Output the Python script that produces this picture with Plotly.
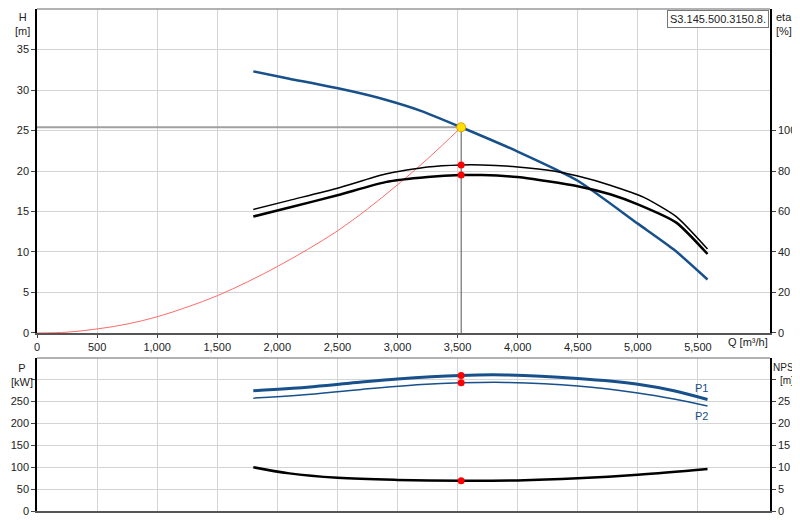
import plotly.graph_objects as go

q_h = [1800, 2100, 2600, 2900, 3200, 3530, 4000, 4500, 5000, 5300, 5580]
h = [32.3, 31.4, 29.9, 28.8, 27.4, 25.4, 22.4, 18.8, 13.5, 10.3, 6.6]

q_eta_up = [1800, 2100, 2500, 2900, 3250, 3530, 3700, 4000, 4300, 4500, 4770, 5050, 5320, 5580]
eta_up = [61, 65.5, 71.5, 78.5, 82, 83, 83, 82, 80, 77.5, 73, 67, 57.5, 41.5]
q_eta_lo = [1800, 2100, 2500, 2900, 3250, 3530, 3700, 4000, 4500, 4770, 5000, 5320, 5580]
eta_lo = [57.5, 62, 68, 74.5, 77, 78, 78, 77, 72.5, 68.5, 63.5, 54.5, 39]

q_sys = [0, 250, 500, 750, 1000, 1250, 1500, 1750, 2000, 2250, 2500, 2750, 3000, 3250, 3530]
h_sys = [0, 0.1, 0.5, 1.1, 2.0, 3.2, 4.6, 6.3, 8.2, 10.3, 12.6, 15.3, 18.3, 21.5, 25.4]

q_p1 = [1800, 2100, 2600, 3000, 3530, 3900, 4500, 5000, 5300, 5580]
p1 = [275, 280, 292, 302, 310, 311, 303, 290, 275, 255]
q_p2 = [1800, 2200, 2700, 3200, 3530, 3900, 4500, 5000, 5300, 5580]
p2 = [258, 265, 278, 289, 293, 294, 286, 270, 256, 240]
q_npsh = [1800, 2100, 2500, 3000, 3530, 4000, 4500, 5000, 5580]
npsh = [10, 8.6, 7.6, 7.1, 6.9, 7.0, 7.5, 8.3, 9.6]

q_op, h_op, eta_op1, eta_op2, p1_op, p2_op, npsh_op = 3530, 25.4, 83, 78, 310, 293, 6.9

BLUE = "#17508a"
fig = go.Figure()
ln = lambda c, w: dict(color=c, width=w)
fig.add_trace(go.Scatter(x=[0, q_op], y=[h_op, h_op], mode="lines", line=ln("#a0a0a0", 2), xaxis="x", yaxis="y"))
fig.add_trace(go.Scatter(x=[q_op, q_op], y=[0, h_op], mode="lines", line=ln("#555555", 1), xaxis="x", yaxis="y"))
fig.add_trace(go.Scatter(x=q_sys, y=h_sys, mode="lines", line=dict(color="#ff6b6b", width=1, shape="spline"), xaxis="x", yaxis="y"))
fig.add_trace(go.Scatter(x=q_eta_up, y=eta_up, mode="lines", line=dict(color="black", width=1.5, shape="spline", smoothing=0.6), xaxis="x", yaxis="y2"))
fig.add_trace(go.Scatter(x=q_eta_lo, y=eta_lo, mode="lines", line=dict(color="black", width=2.5, shape="spline", smoothing=0.6), xaxis="x", yaxis="y2"))
fig.add_trace(go.Scatter(x=q_h, y=h, mode="lines", line=dict(color=BLUE, width=2.5, shape="spline", smoothing=0.6), xaxis="x", yaxis="y"))
fig.add_trace(go.Scatter(x=[q_op, q_op], y=[eta_op1, eta_op2], mode="markers", marker=dict(color="red", size=7), xaxis="x", yaxis="y2"))
fig.add_trace(go.Scatter(x=[q_op], y=[h_op], mode="markers", marker=dict(color="#ffe000", size=9, line=dict(color="#e0a000", width=1)), xaxis="x", yaxis="y"))

fig.add_trace(go.Scatter(x=q_p1, y=p1, mode="lines", line=dict(color=BLUE, width=3, shape="spline"), xaxis="x2", yaxis="y3"))
fig.add_trace(go.Scatter(x=q_p2, y=p2, mode="lines", line=dict(color=BLUE, width=1.5, shape="spline"), xaxis="x2", yaxis="y3"))
fig.add_trace(go.Scatter(x=q_npsh, y=npsh, mode="lines", line=dict(color="black", width=2.5, shape="spline"), xaxis="x2", yaxis="y4"))
fig.add_trace(go.Scatter(x=[q_op, q_op], y=[p1_op, p2_op], mode="markers", marker=dict(color="red", size=7), xaxis="x2", yaxis="y3"))
fig.add_trace(go.Scatter(x=[q_op], y=[npsh_op], mode="markers", marker=dict(color="red", size=7), xaxis="x2", yaxis="y4"))

grid = "#d4d4d4"
font = dict(family="Liberation Sans, Arial", size=11, color="#222")
xt = list(range(0, 6000, 500))
common_x = dict(range=[0, 6100], tickvals=xt, showgrid=True, gridcolor=grid, zeroline=False,
                showline=True, linecolor="#555", linewidth=2, automargin=False)
ycommon = dict(zeroline=False, showline=True, linecolor="black", linewidth=1.5, ticks="outside", ticklen=4, automargin=False)
fig.update_layout(
    width=800, height=520, showlegend=False, plot_bgcolor="white", paper_bgcolor="white", font=font,
    margin=dict(l=29, r=38, t=1, b=17),
    xaxis=dict(**common_x, domain=[0, 1], anchor="y", tickformat=",d", ticks="outside", ticklen=3),
    xaxis2=dict(**common_x, domain=[0, 1], anchor="y3", showticklabels=False),
    yaxis=dict(**ycommon, domain=[0.3546, 1], range=[0, 40], tickvals=list(range(0, 40, 5)), showgrid=True, gridcolor=grid),
    yaxis2=dict(**ycommon, overlaying="y", side="right", range=[0, 160], tickvals=list(range(0, 101, 20)), showgrid=False, anchor="x"),
    yaxis3=dict(**ycommon, domain=[0, 0.305], range=[0, 350], tickvals=list(range(0, 301, 50)),
                ticktext=["0", "50", "100", "150", "200", "250", ""], showgrid=True, gridcolor=grid, anchor="x2"),
    yaxis4=dict(**ycommon, overlaying="y3", side="right", range=[0, 35], tickvals=list(range(0, 31, 5)),
                ticktext=["0", "5", "10", "15", "20", "25", ""], showgrid=False, anchor="x2"),
)
shapes = [
    dict(type="line", xref="paper", yref="paper", x0=0, x1=1, y0=1, y1=1, line=dict(color="#999", width=1.5)),
    dict(type="line", xref="paper", yref="paper", x0=0, x1=1, y0=0.305, y1=0.305, line=dict(color="#999", width=1.5)),
]
fig.update_layout(shapes=shapes)
ann = [
    dict(text="H<br>[m]", x=-0.02, y=1, xanchor="center", yanchor="top"),
    dict(text="eta<br>[%]", x=1.005, y=1, xanchor="left", yanchor="top", align="left"),
    dict(text="Q [m³/h]", x=1, y=0.3546, xanchor="right", yanchor="top", yshift=-1),
    dict(text="P<br>[kW]", x=-0.02, y=0.3, xanchor="center", yanchor="top"),
    dict(text="NPSH<br>[m]", x=1.002, y=0.3, xanchor="left", yanchor="top", align="center",
         font=dict(family="Liberation Sans, Arial", size=10, color="#222")),
    dict(text="S3.145.500.3150.8.", x=0.999, y=0.999, xanchor="right", yanchor="top", bordercolor="#777",
         borderwidth=1, bgcolor="white", borderpad=2),
]
for a in ann:
    a.setdefault("font", font)
    fig.add_annotation(xref="paper", yref="paper", showarrow=False, **a)
fig.add_annotation(x=q_p1[-1], y=p1[-1], xref="x2", yref="y3", text="P1", showarrow=False, xanchor="right",
                   yanchor="bottom", xshift=2, yshift=3, font=dict(family="Liberation Sans", size=11, color=BLUE))
fig.add_annotation(x=q_p2[-1], y=p2[-1], xref="x2", yref="y3", text="P2", showarrow=False, xanchor="right",
                   yanchor="top", xshift=2, yshift=-2, font=dict(family="Liberation Sans", size=11, color=BLUE))
fig.write_html("out.html")
